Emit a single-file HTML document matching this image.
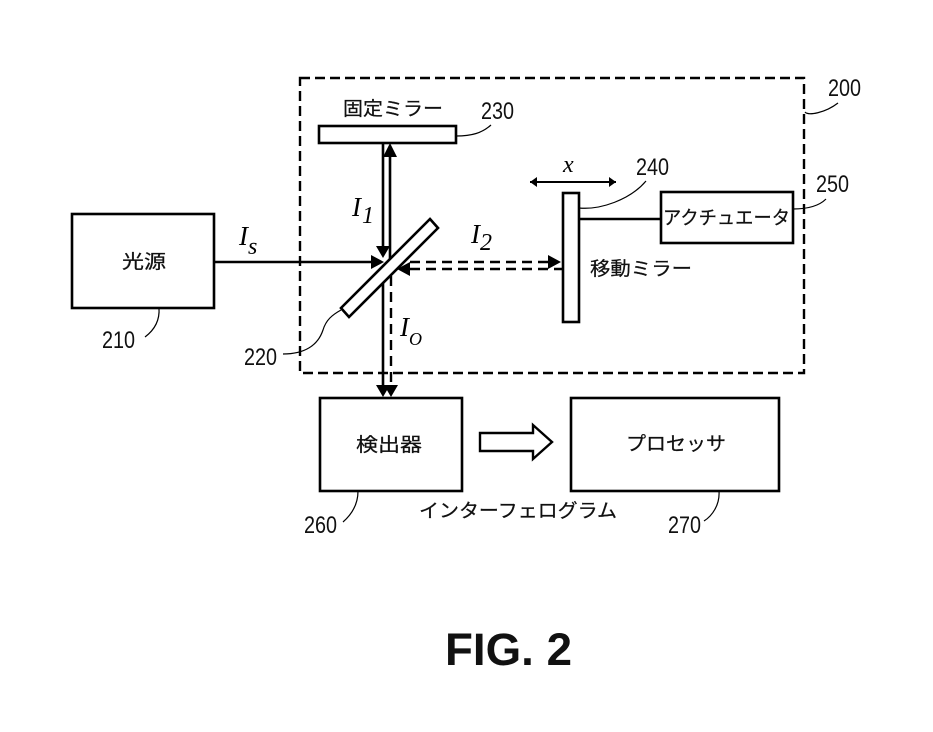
<!DOCTYPE html>
<html><head><meta charset="utf-8"><style>
html,body{margin:0;padding:0;background:#fff;width:933px;height:732px;overflow:hidden}
svg{display:block}
.j{font-family:"Liberation Sans","Noto Sans CJK JP",sans-serif;font-size:19px;fill:#111;stroke:#111;stroke-width:.25}
.n{font-family:"Liberation Sans",sans-serif;font-size:24px;fill:#111}
.i{font-family:"Liberation Serif",serif;font-style:italic;fill:#000}
.b{fill:#fff;stroke:#000;stroke-width:2.6}
.l{fill:none;stroke:#000;stroke-width:1.2}
.s{fill:none;stroke:#000;stroke-width:2.6}
.d{fill:none;stroke:#000;stroke-width:2.4;stroke-dasharray:10 6}
</style></head><body>
<svg width="933" height="732" viewBox="0 0 933 732" xmlns="http://www.w3.org/2000/svg">
<rect x="300" y="78" width="504" height="295" fill="none" stroke="#000" stroke-width="2.4" stroke-dasharray="10 5"/>
<rect class="b" x="72" y="214" width="142" height="94"/>
<rect class="b" x="320" y="398" width="142" height="93"/>
<rect class="b" x="571" y="398" width="208" height="93"/>
<rect class="b" x="319" y="126" width="137" height="17"/>
<rect class="b" x="563" y="193" width="16" height="129"/>
<rect class="b" x="661" y="192" width="132" height="51"/>
<path class="s" d="M214 262H372M383 143V246M390 157V262M579 219H661M383 280V385"/>
<path class="d" d="M410 262H548M410 269H562M391 276V385"/>
<polygon class="b" points="430,219 438,228 349,317 341,308"/>
<path d="M371 255L384 262L371 269ZM376 246H390L383 258ZM390 143L383 157H397ZM548 255L561 262L548 269ZM410 262L397 269L410 276ZM376 385H390L383 397ZM384 385H398L391 397Z" fill="#000"/>
<path d="M530 182H616" stroke="#000" stroke-width="2" fill="none"/>
<path d="M530 182L537 177V187ZM616 182L609 177V187Z" fill="#000"/>
<polygon points="480,433 533,433 533,425 552,442 533,459 533,451 480,451" fill="#fff" stroke="#000" stroke-width="2.4"/>
<path class="l" d="M456 136C472 136 482 133 491 125"/>
<path class="l" d="M805 112C808 116 825 113 838 103"/>
<path class="l" d="M579 208C600 210 630 200 646 181"/>
<path class="l" d="M793 209C805 209 818 207 826 199"/>
<path class="l" d="M159 308C160 322 153 331 145 337"/>
<path class="l" d="M283 354C305 354 318 345 323 330C326 320 332 315 341 310"/>
<path class="l" d="M358 491C358 505 351 515 343 522"/>
<path class="l" d="M719 491C720 505 712 516 704 521"/>
<text class="j" x="343" y="115" textLength="100" lengthAdjust="spacingAndGlyphs">固定ミラー</text>
<text class="j" x="590" y="275" textLength="102" lengthAdjust="spacingAndGlyphs">移動ミラー</text>
<text class="j" x="663" y="224" textLength="127" lengthAdjust="spacingAndGlyphs">アクチュエータ</text>
<text class="j" x="122" y="268" textLength="44" lengthAdjust="spacingAndGlyphs">光源</text>
<text class="j" x="356" y="451" textLength="66" lengthAdjust="spacingAndGlyphs">検出器</text>
<text class="j" x="626" y="450" textLength="100" lengthAdjust="spacingAndGlyphs">プロセッサ</text>
<text class="j" x="419" y="517" textLength="198" lengthAdjust="spacingAndGlyphs">インターフェログラム</text>
<text class="n" x="481" y="119" textLength="33" lengthAdjust="spacingAndGlyphs">230</text>
<text class="n" x="828" y="96" textLength="33" lengthAdjust="spacingAndGlyphs">200</text>
<text class="n" x="636" y="175" textLength="33" lengthAdjust="spacingAndGlyphs">240</text>
<text class="n" x="816" y="192" textLength="33" lengthAdjust="spacingAndGlyphs">250</text>
<text class="n" x="102" y="348" textLength="33" lengthAdjust="spacingAndGlyphs">210</text>
<text class="n" x="244" y="365" textLength="33" lengthAdjust="spacingAndGlyphs">220</text>
<text class="n" x="304" y="533" textLength="33" lengthAdjust="spacingAndGlyphs">260</text>
<text class="n" x="668" y="533" textLength="33" lengthAdjust="spacingAndGlyphs">270</text>
<text class="i" x="563" y="172" font-size="24">x</text>
<text class="i" x="239" y="245" font-size="27">I</text>
<text class="i" x="248" y="254" font-size="24">s</text>
<text class="i" x="352" y="216" font-size="27">I</text>
<text class="i" x="362" y="223" font-size="24">1</text>
<text class="i" x="471" y="243" font-size="27">I</text>
<text class="i" x="480" y="250" font-size="24">2</text>
<text class="i" x="400" y="336" font-size="27">I</text>
<text class="i" x="409" y="345" font-size="18">O</text>
<text x="445" y="665" font-family="'Liberation Sans',sans-serif" font-weight="bold" font-size="45" fill="#111" textLength="127" lengthAdjust="spacingAndGlyphs">FIG. 2</text>
</svg>
</body></html>
